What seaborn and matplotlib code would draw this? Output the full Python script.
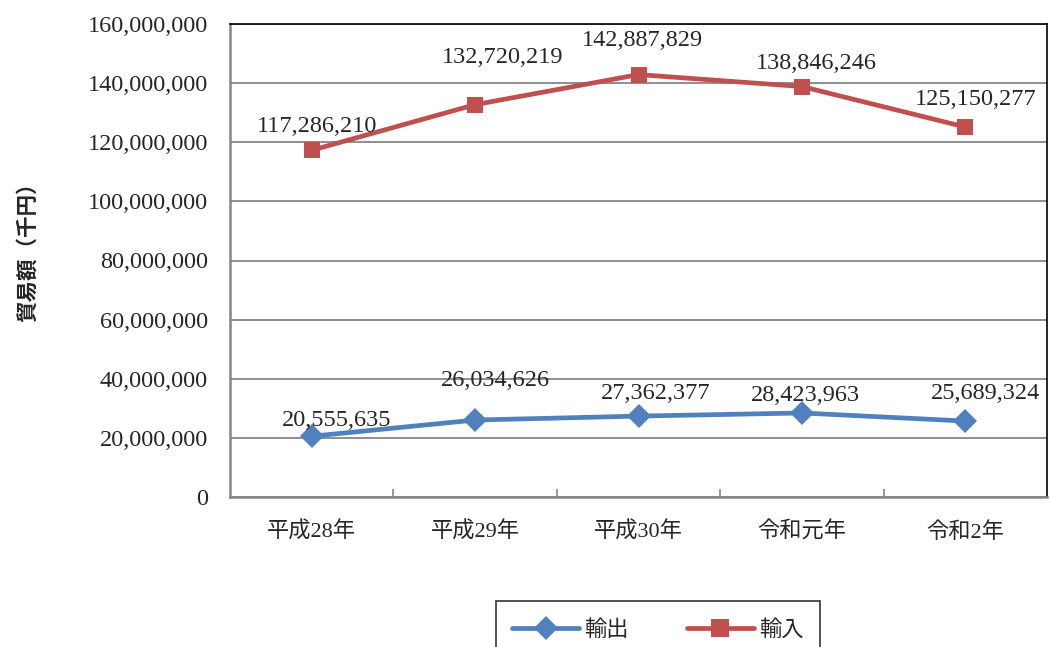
import matplotlib
matplotlib.use("Agg")
import matplotlib.pyplot as plt
import seaborn as sns
import pandas as pd
from matplotlib.ticker import FuncFormatter, MultipleLocator
from matplotlib.lines import Line2D

years = ["平成28年", "平成29年", "平成30年", "令和元年", "令和2年"]
exports = [20555635, 26034626, 27362377, 28423963, 25689324]
imports = [117286210, 132720219, 142887829, 138846246, 125150277]
series_names = ["輸出", "輸入"]

# label offsets in pixels (style only)
exp_off = [(25, 16), (20, 40), (17, 23), (4, 17), (20, 28)]
imp_off = [(5, 24), (28, 47), (4, 34), (14, 23), (10, 28)]

sns.set_theme(style="white")
serif = ["Liberation Serif", "Noto Sans CJK JP", "DejaVu Sans"]
cjk = ["Noto Sans CJK JP", "DejaVu Sans"]
plt.rcParams["font.family"] = serif

df = pd.DataFrame({
    "year": years * 2,
    "x": list(range(len(years))) * 2,
    "value": exports + imports,
    "series": [series_names[0]] * len(years) + [series_names[1]] * len(years),
})

fig = plt.figure(figsize=(10.5, 6.47), dpi=100)
ax = fig.add_axes([230 / 1050, 1 - 497 / 647, 817 / 1050, 473 / 647])

blue = "#4F81BD"
red = "#C0504D"
sns.lineplot(data=df, x="x", y="value", hue="series", style="series",
             markers={"輸出": "D", "輸入": "s"}, dashes=False,
             palette={"輸出": blue, "輸入": red}, linewidth=3.4,
             markersize=12, markeredgewidth=0, ax=ax, legend=False)

ax.set_xlim(-0.5, len(years) - 0.5)
ax.set_ylim(0, 160000000)
ax.yaxis.set_major_locator(MultipleLocator(20000000))
ax.yaxis.set_major_formatter(FuncFormatter(lambda v, p: f"{int(v):,}"))
ax.set_xticks(range(len(years)))
ax.set_xticklabels(years)
for t in ax.get_xticklabels():
    t.set_fontfamily(serif)
    t.set_fontsize(16)
for t in ax.get_yticklabels():
    t.set_fontsize(17.5)
ax.set_xticks([i + 0.5 for i in range(len(years) - 1)], minor=True)
ax.tick_params(axis="x", which="major", length=0, pad=18)
ax.tick_params(axis="x", which="minor", direction="in", length=6, width=1.2, color="#868686", bottom=True)
ax.tick_params(axis="y", length=0, pad=16)
ax.set_xlabel("")
ax.set_ylabel("貿易額（千円）", fontfamily=cjk, fontsize=15.5, fontweight="bold")
ax.yaxis.set_label_coords(-0.235, 0.53)

ax.grid(axis="y", color="#868686", linewidth=1.3)
ax.set_axisbelow(True)
for s in ["left", "bottom"]:
    ax.spines[s].set_color("#868686")
    ax.spines[s].set_linewidth(1.8)
for s in ["top", "right"]:
    ax.spines[s].set_color("#000000")
    ax.spines[s].set_linewidth(1.2)

for i, v in enumerate(exports):
    ax.annotate(f"{v:,}", (i, v), xytext=exp_off[i], textcoords="offset pixels",
                ha="center", va="center", fontsize=17.5)
for i, v in enumerate(imports):
    ax.annotate(f"{v:,}", (i, v), xytext=imp_off[i], textcoords="offset pixels",
                ha="center", va="center", fontsize=17.5)

handles = [Line2D([], [], color=blue, marker="D", lw=3.4, ms=12, mew=0),
           Line2D([], [], color=red, marker="s", lw=3.4, ms=13, mew=0)]
leg = fig.legend(handles, series_names, loc="upper center",
                 bbox_to_anchor=(658 / 1050, 1 - 601 / 647),
                 ncol=2, frameon=True, fancybox=False,
                 prop={"family": cjk, "size": 16}, handlelength=3.0,
                 columnspacing=2.6, borderpad=0.75, handletextpad=0.25,
                 borderaxespad=0)
leg.get_frame().set_edgecolor("#000000")
leg.get_frame().set_linewidth(1.2)

fig.savefig("out.png", dpi=100)
